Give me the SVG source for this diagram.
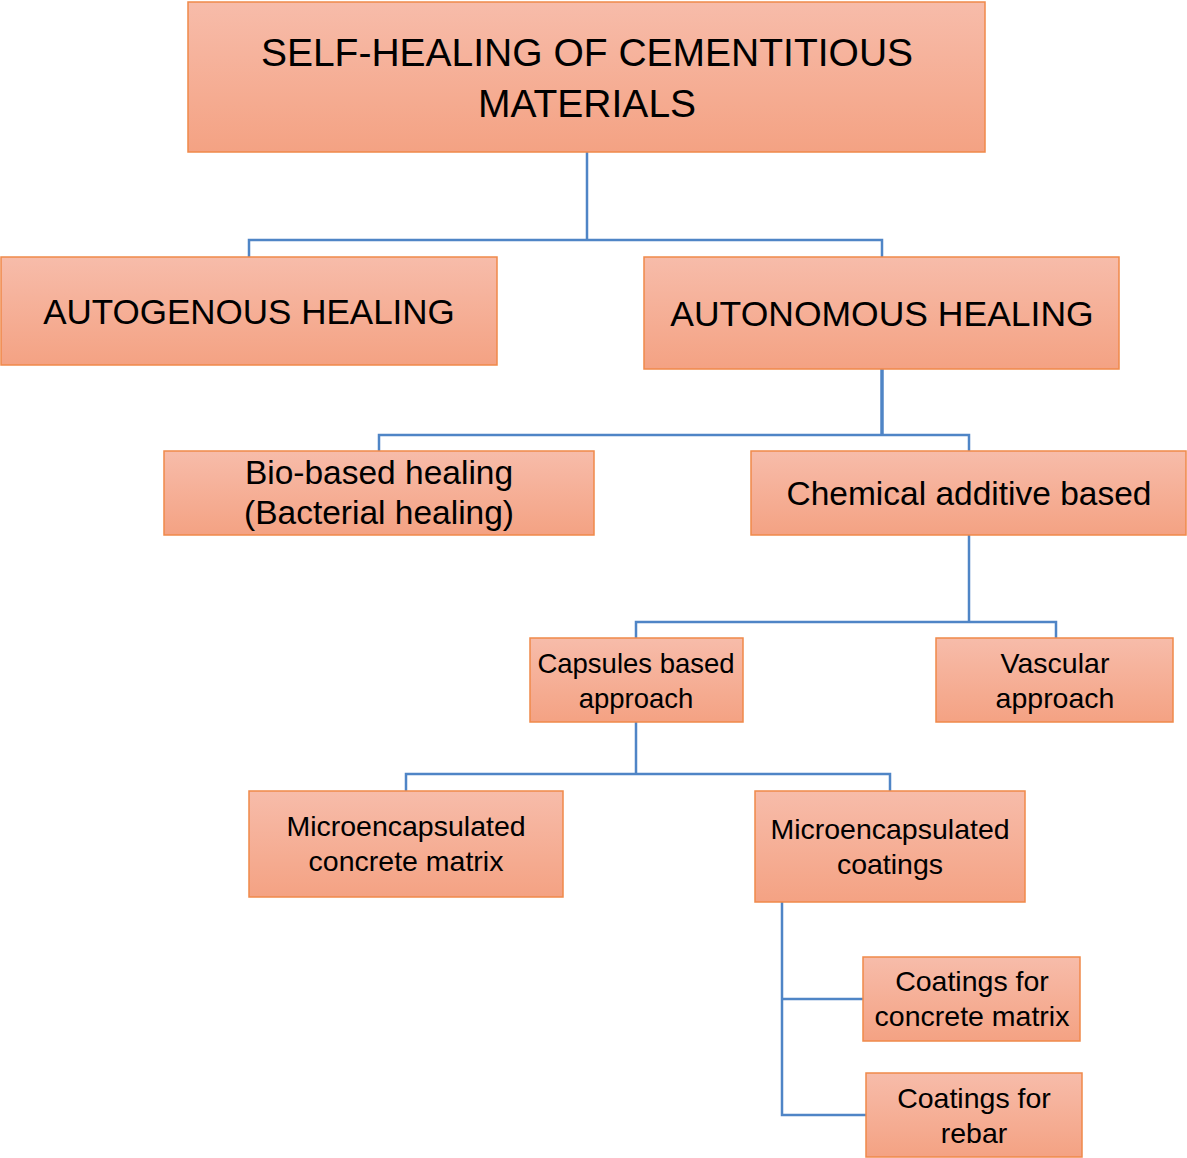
<svg xmlns="http://www.w3.org/2000/svg" width="1187" height="1158" viewBox="0 0 1187 1158">
<defs>
<linearGradient id="g" x1="0" y1="0" x2="0" y2="1">
<stop offset="0" stop-color="#f7bcaa"/>
<stop offset="1" stop-color="#f4a283"/>
</linearGradient>
<style>
.box{fill:url(#g);stroke:#f0894a;stroke-width:1.5}
.t{font-family:"Liberation Sans",Arial,sans-serif;fill:#000;text-anchor:middle}
.s{font-size:28.5px}
.m{font-size:33.5px}
.c{fill:none;stroke:#4f85c6;stroke-width:2.5}
</style>
</defs>
<rect width="1187" height="1158" fill="#fff"/>
<g id="connectors">
<path class="c" d="M587 152V240M249 257V240H882V257"/>
<path class="c" d="M882 369V435" style="stroke-width:3.5"/>
<path class="c" d="M379 451V435H969V451"/>
<path class="c" d="M969 535V622M636 638V622H1056V638"/>
<path class="c" d="M636 722V774M406 791V774H890V791"/>
<path class="c" d="M782 902V1115H866M782 999H863"/>
</g>
<g id="root">
<rect class="box" x="188" y="2" width="797" height="150"/>
<text class="t" x="587" y="66" font-size="39">SELF-HEALING OF CEMENTITIOUS</text>
<text class="t" x="587" y="117" font-size="39">MATERIALS</text>
</g>
<g id="autogenous">
<rect class="box" x="1" y="257" width="496" height="108"/>
<text class="t" x="249" y="324" font-size="35">AUTOGENOUS HEALING</text>
</g>
<g id="autonomous">
<rect class="box" x="644" y="257" width="475" height="112"/>
<text class="t" x="882" y="326" font-size="35.5">AUTONOMOUS HEALING</text>
</g>
<g id="bio">
<rect class="box" x="164" y="451" width="430" height="84"/>
<text class="t m" x="379" y="484">Bio-based healing</text>
<text class="t m" x="379" y="524">(Bacterial healing)</text>
</g>
<g id="chemical">
<rect class="box" x="751" y="451" width="435" height="84"/>
<text class="t m" x="969" y="505">Chemical additive based</text>
</g>
<g id="capsules">
<rect class="box" x="530" y="638" width="213" height="84"/>
<text class="t" x="636" y="673" font-size="27.5">Capsules based</text>
<text class="t" x="636" y="708" font-size="27.5">approach</text>
</g>
<g id="vascular">
<rect class="box" x="936" y="638" width="237" height="84"/>
<text class="t s" x="1055" y="673">Vascular</text>
<text class="t s" x="1055" y="708">approach</text>
</g>
<g id="micro-matrix">
<rect class="box" x="249" y="791" width="314" height="106"/>
<text class="t s" x="406" y="836">Microencapsulated</text>
<text class="t s" x="406" y="871">concrete matrix</text>
</g>
<g id="micro-coatings">
<rect class="box" x="755" y="791" width="270" height="111"/>
<text class="t s" x="890" y="839">Microencapsulated</text>
<text class="t s" x="890" y="874">coatings</text>
</g>
<g id="coat-matrix">
<rect class="box" x="863" y="957" width="217" height="84"/>
<text class="t s" x="972" y="991">Coatings for</text>
<text class="t s" x="972" y="1026">concrete matrix</text>
</g>
<g id="coat-rebar">
<rect class="box" x="866" y="1073" width="216" height="84"/>
<text class="t s" x="974" y="1108">Coatings for</text>
<text class="t s" x="974" y="1143">rebar</text>
</g>
</svg>
